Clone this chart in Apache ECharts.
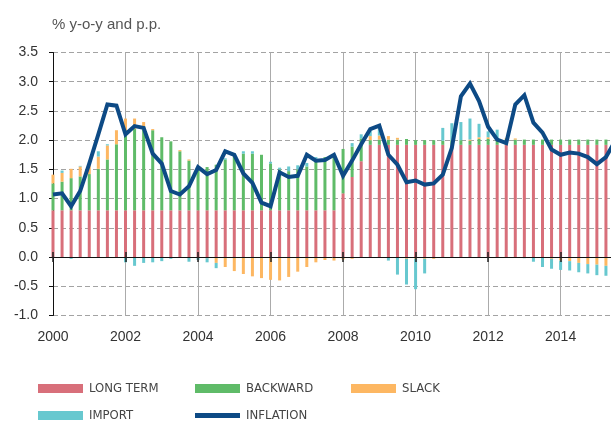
<!DOCTYPE html>
<html>
<head>
<meta charset="utf-8">
<script src="https://cdn.jsdelivr.net/npm/echarts@6/dist/echarts.min.js"></script>
<style>
  html, body { margin: 0; padding: 0; background: #fff; }
  #chart { width: 611px; height: 421px; }
</style>
</head>
<body>
<div id="chart"></div>
<script>
// Quarterly decomposition of inflation, 2000Q1 onwards (% y-o-y and p.p.)
const FIRST_YEAR = 2000;

const longTerm = [
  0.80, 0.80, 0.80, 0.80, 0.80, 0.80, 0.80, 0.80, 0.80, 0.80,
  0.80, 0.80, 0.80, 0.80, 0.80, 0.80, 0.80, 0.80, 0.80, 0.80,
  0.80, 0.80, 0.80, 0.80, 0.80, 0.80, 0.80, 0.80, 0.80, 0.80,
  0.80, 0.80, 1.09, 1.37, 1.64, 1.92, 1.92, 1.92, 1.92, 1.92,
  1.92, 1.92, 1.92, 1.92, 1.92, 1.92, 1.92, 1.92, 1.92, 1.92,
  1.92, 1.92, 1.92, 1.92, 1.92, 1.92, 1.92, 1.92, 1.92, 1.92,
  1.92, 1.92
];

const backward = [
  0.46, 0.49, 0.55, 0.58, 0.62, 0.71, 0.87, 1.13, 1.28, 1.39,
  1.44, 1.37, 1.25, 1.18, 1.01, 0.85, 0.72, 0.74, 0.78, 0.87,
  0.97, 0.97, 0.97, 0.95, 0.80, 0.70, 0.67, 0.70, 0.75, 0.88,
  0.91, 0.94, 0.76, 0.52, 0.39, 0.08, 0.09, 0.09, 0.09, 0.10,
  0.08, 0.08, 0.08, 0.07, 0.08, 0.08, 0.07, 0.10, 0.10, 0.10,
  0.10, 0.09, 0.09, 0.09, 0.09, 0.09, 0.09, 0.09, 0.09, 0.09,
  0.09, 0.09
];

const slack = [
  0.15, 0.15, 0.16, 0.17, 0.16, 0.21, 0.24, 0.24, 0.29, 0.18,
  0.07, 0.02, 0.00, 0.00, 0.02, 0.02, 0.00, -0.02, -0.10, -0.17,
  -0.24, -0.29, -0.33, -0.36, -0.39, -0.40, -0.34, -0.25, -0.17, -0.09,
  -0.05, -0.06, -0.04, -0.03, 0.00, 0.07, 0.07, 0.06, 0.03, -0.03,
  -0.03, -0.03, -0.03, 0.00, 0.00, 0.00, 0.02, 0.03, 0.03, 0.00,
  0.02, 0.02, 0.00, 0.00, 0.00, -0.03, -0.06, -0.07, -0.10, -0.12,
  -0.13, -0.15
];

const importPrices = [
  0.00, 0.04, -0.03, 0.01, 0.00, 0.09, 0.02, 0.00, -0.09, -0.15,
  -0.10, -0.09, -0.07, -0.03, 0.00, -0.08, -0.05, -0.07, -0.09, 0.02,
  0.00, 0.04, 0.04, 0.00, 0.03, 0.03, 0.08, 0.07, 0.06, 0.03,
  0.00, 0.00, 0.00, 0.06, 0.07, 0.10, 0.12, -0.06, -0.30, -0.44,
  -0.52, -0.25, 0.00, 0.22, 0.29, 0.31, 0.36, 0.23, 0.10, 0.16,
  0.00, 0.00, -0.02, -0.08, -0.17, -0.17, -0.16, -0.16, -0.16, -0.16,
  -0.18, -0.17
];

const inflation = [
  1.07, 1.09, 0.87, 1.13, 1.60, 2.10, 2.61, 2.59, 2.10, 2.24,
  2.21, 1.77, 1.60, 1.13, 1.07, 1.21, 1.54, 1.42, 1.49, 1.81,
  1.75, 1.43, 1.27, 0.93, 0.87, 1.45, 1.37, 1.39, 1.75, 1.65,
  1.66, 1.75, 1.39, 1.65, 1.93, 2.19, 2.25, 1.75, 1.58, 1.28,
  1.31, 1.24, 1.26, 1.41, 1.87, 2.75, 2.97, 2.67, 2.23, 2.01,
  1.95, 2.61, 2.77, 2.30, 2.13, 1.84, 1.75, 1.79, 1.77, 1.71,
  1.59, 1.71, 1.98
];

// Quarter categories: "2000 Q1", "2000 Q2", ...
const quarters = inflation.map((_, i) =>
  (FIRST_YEAR + Math.floor(i / 4)) + ' Q' + (i % 4 + 1));

// Year labels every two years (eight quarters)
const LABEL_STEP = 7;

const COLORS = {
  longTerm: '#d86f7a',
  backward: '#5fbb68',
  slack: '#fdb762',
  importPrices: '#67c8cf',
  inflation: '#0d4a85'
};

const AXIS_FONT = "'Liberation Sans', 'Helvetica Neue', Arial, sans-serif";
const LEGEND_FONT = "'Liberation Sans Narrow', 'DejaVu Sans Condensed', 'Liberation Sans', sans-serif";

function barSeries(name, values, color) {
  return {
    name: name,
    type: 'bar',
    stack: 'contrib',
    barWidth: 3,
    itemStyle: { color: color },
    emphasis: { disabled: true },
    data: values
  };
}

function legendItem(name, left, top, itemHeight) {
  return {
    data: [name],
    left: left,
    top: top,
    padding: 0,
    orient: 'horizontal',
    icon: 'rect',
    itemWidth: 45,
    itemHeight: itemHeight,
    itemGap: 0,
    selectedMode: false,
    textStyle: { fontFamily: LEGEND_FONT, fontSize: 13, color: '#444', padding: [0, 0, 0, 1] }
  };
}

const zeroAxisBase = {
  type: 'category',
  data: quarters,
  boundaryGap: false,
  position: 'bottom',
  axisLabel: { show: false },
  splitLine: { show: false },
  z: 6
};

const chart = echarts.init(document.getElementById('chart'), null, { renderer: 'canvas' });

chart.setOption({
  animation: false,
  backgroundColor: '#ffffff',
  title: {
    text: '% y-o-y and p.p.',
    left: 52,
    top: 17,
    padding: 0,
    textStyle: { fontFamily: AXIS_FONT, fontSize: 15, fontWeight: 'normal', color: '#555' }
  },
  grid: {
    left: 53,
    right: -4,
    top: 52.5,
    bottom: 105.5,
    outerBoundsMode: 'none',
    containLabel: false
  },
  legend: [
    legendItem('LONG TERM', 38, 382, 9),
    legendItem('BACKWARD', 195, 382, 9),
    legendItem('SLACK', 351, 382, 9),
    legendItem('IMPORT', 38, 409, 9),
    legendItem('INFLATION', 195, 409, 5)
  ],
  xAxis: [
    {
      type: 'category',
      data: quarters,
      boundaryGap: false,
      position: 'bottom',
      axisLine: { show: false, onZero: false },
      axisTick: { show: false },
      axisLabel: {
        interval: LABEL_STEP,
        margin: 15,
        fontFamily: AXIS_FONT,
        fontSize: 14,
        color: '#333',
        formatter: v => (/Q1$/.test(v) && Number(v.slice(0, 4)) % 2 === 0 ? v.slice(0, 4) : '')
      },
      splitLine: { show: true, interval: LABEL_STEP, lineStyle: { color: '#ababab', width: 1, type: 'solid' } }
    },
    Object.assign({}, zeroAxisBase, {
      axisLine: { show: true, onZero: true, onZeroAxisIndex: 0, lineStyle: { color: '#111', width: 1 } },
      axisTick: { show: true, interval: LABEL_STEP, inside: true, length: 5, lineStyle: { color: '#222', width: 1.5 } }
    }),
    Object.assign({}, zeroAxisBase, {
      axisLine: { show: false, onZero: true, onZeroAxisIndex: 0 },
      axisTick: { show: true, interval: LABEL_STEP, inside: false, length: 5, lineStyle: { color: '#222', width: 1.5 } }
    })
  ],
  yAxis: {
    type: 'value',
    min: -1,
    max: 3.5,
    interval: 0.5,
    axisLine: { show: true, onZero: false, lineStyle: { color: '#111', width: 1 } },
    axisTick: { show: true, length: 4, lineStyle: { color: '#111' } },
    axisLabel: {
      margin: 15,
      fontFamily: AXIS_FONT,
      fontSize: 14,
      color: '#333',
      formatter: v => v.toFixed(1)
    },
    splitLine: { show: true, lineStyle: { color: '#a3a3a3', width: 1, type: [5, 3] } }
  },
  series: [
    barSeries('LONG TERM', longTerm, COLORS.longTerm),
    barSeries('BACKWARD', backward, COLORS.backward),
    barSeries('SLACK', slack, COLORS.slack),
    barSeries('IMPORT', importPrices, COLORS.importPrices),
    {
      name: 'INFLATION',
      type: 'line',
      showSymbol: false,
      symbol: 'none',
      z: 10,
      lineStyle: { color: COLORS.inflation, width: 4, join: 'miter' },
      itemStyle: { color: COLORS.inflation },
      emphasis: { disabled: true },
      data: inflation
    }
  ]
});
</script>
</body>
</html>
